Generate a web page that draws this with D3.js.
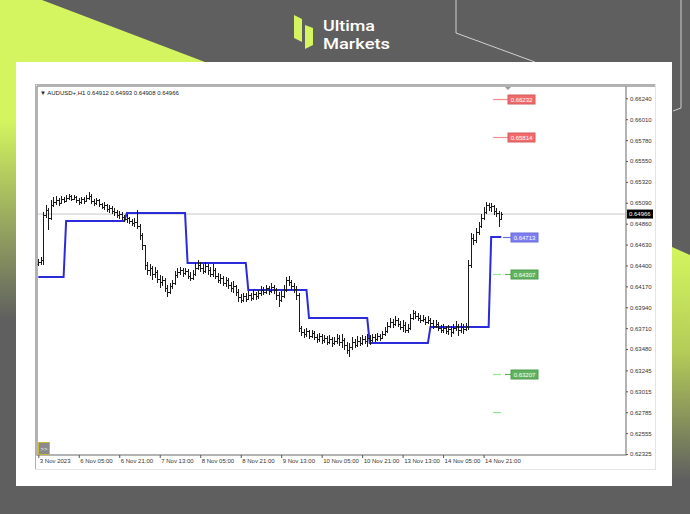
<!DOCTYPE html>
<html><head><meta charset="utf-8">
<script src="https://cdn.jsdelivr.net/npm/d3@7/dist/d3.min.js"></script>
<style>html,body{margin:0;padding:0;background:#5f5f5f;overflow:hidden}svg{display:block}</style>
</head><body>
<svg id="c" width="690" height="514"></svg>
<script>
// ---------- DATA ----------
const symbolTitle = "AUDUSD+,H1";
const lastBarOHLC = [0.64912, 0.64993, 0.64908, 0.64966];
const currentPrice = 0.64966;
const firstOpen = 0.64417;
const closes = [0.64439,0.64461,0.64956,0.65011,0.64923,0.65066,0.65099,0.65121,0.65088,0.65132,
0.65110,0.65143,0.65165,0.65132,0.65154,0.65121,0.65099,0.65132,0.65110,0.65143,
0.65165,0.65110,0.65088,0.65121,0.65077,0.65044,0.65066,0.65022,0.65033,0.65000,
0.64989,0.64956,0.64967,0.64934,0.64912,0.64923,0.64890,0.64868,0.64879,0.64835,
0.64736,0.64626,0.64406,0.64351,0.64373,0.64307,0.64329,0.64252,0.64219,0.64241,
0.64153,0.64109,0.64175,0.64208,0.64296,0.64329,0.64351,0.64318,0.64340,0.64285,
0.64263,0.64307,0.64373,0.64406,0.64373,0.64340,0.64395,0.64351,0.64307,0.64351,
0.64285,0.64241,0.64263,0.64208,0.64241,0.64186,0.64153,0.64175,0.64109,0.64054,
0.64021,0.64065,0.64032,0.64076,0.64043,0.64087,0.64065,0.64098,0.64131,0.64109,
0.64153,0.64120,0.64164,0.64131,0.64076,0.64021,0.64065,0.64131,0.64241,0.64219,
0.64175,0.64142,0.64076,0.63713,0.63669,0.63647,0.63680,0.63625,0.63658,0.63614,
0.63592,0.63625,0.63581,0.63603,0.63559,0.63592,0.63548,0.63570,0.63603,0.63559,
0.63581,0.63526,0.63471,0.63504,0.63559,0.63526,0.63570,0.63548,0.63592,0.63570,
0.63603,0.63581,0.63614,0.63592,0.63625,0.63603,0.63647,0.63680,0.63735,0.63779,
0.63757,0.63801,0.63757,0.63724,0.63746,0.63691,0.63713,0.63823,0.63878,0.63845,
0.63823,0.63801,0.63812,0.63779,0.63801,0.63768,0.63735,0.63757,0.63713,0.63691,
0.63713,0.63680,0.63702,0.63669,0.63713,0.63735,0.63691,0.63724,0.63702,0.63735,
0.64406,0.64703,0.64681,0.64769,0.64835,0.64923,0.64989,0.65066,0.65044,0.65055,
0.65000,0.64978,0.64912,0.64966];
const highs = [0.64472,0.64494,0.64989,0.65066,0.65033,0.65121,0.65154,0.65165,0.65143,0.65165,
0.65154,0.65176,0.65187,0.65176,0.65176,0.65165,0.65143,0.65154,0.65154,0.65176,
0.65209,0.65187,0.65132,0.65143,0.65132,0.65088,0.65099,0.65077,0.65066,0.65055,
0.65033,0.65011,0.65000,0.64989,0.64956,0.64967,0.64934,0.64912,0.64923,0.65011,
0.64857,0.64758,0.64626,0.64439,0.64417,0.64395,0.64384,0.64351,0.64296,0.64285,
0.64263,0.64186,0.64208,0.64241,0.64340,0.64373,0.64384,0.64373,0.64373,0.64362,
0.64329,0.64351,0.64428,0.64461,0.64439,0.64417,0.64439,0.64417,0.64384,0.64417,
0.64373,0.64318,0.64307,0.64285,0.64274,0.64263,0.64219,0.64230,0.64186,0.64142,
0.64087,0.64098,0.64098,0.64120,0.64098,0.64131,0.64109,0.64131,0.64175,0.64164,
0.64186,0.64175,0.64208,0.64186,0.64153,0.64109,0.64120,0.64186,0.64274,0.64285,
0.64241,0.64208,0.64175,0.64098,0.63735,0.63702,0.63713,0.63691,0.63691,0.63680,
0.63647,0.63658,0.63647,0.63636,0.63625,0.63636,0.63614,0.63614,0.63647,0.63636,
0.63647,0.63603,0.63559,0.63548,0.63614,0.63592,0.63625,0.63614,0.63636,0.63625,
0.63647,0.63636,0.63647,0.63647,0.63658,0.63647,0.63680,0.63724,0.63779,0.63823,
0.63812,0.63845,0.63823,0.63790,0.63801,0.63779,0.63757,0.63867,0.63911,0.63900,
0.63878,0.63856,0.63856,0.63834,0.63845,0.63823,0.63801,0.63801,0.63779,0.63746,
0.63757,0.63735,0.63746,0.63735,0.63757,0.63790,0.63757,0.63768,0.63757,0.63768,
0.64461,0.64758,0.64747,0.64813,0.64879,0.64967,0.65044,0.65099,0.65088,0.65088,
0.65066,0.65033,0.65000,0.64993];
const lows = [0.64395,0.64406,0.64406,0.64923,0.64791,0.64901,0.65044,0.65066,0.65055,0.65077,
0.65088,0.65099,0.65121,0.65110,0.65121,0.65088,0.65066,0.65077,0.65077,0.65099,
0.65121,0.65077,0.65055,0.65066,0.65044,0.65022,0.65011,0.64989,0.64978,0.64967,
0.64945,0.64923,0.64912,0.64901,0.64879,0.64868,0.64857,0.64835,0.64824,0.64802,
0.64681,0.64571,0.64351,0.64296,0.64285,0.64241,0.64263,0.64208,0.64153,0.64175,
0.64109,0.64054,0.64087,0.64142,0.64186,0.64263,0.64296,0.64274,0.64296,0.64252,
0.64230,0.64241,0.64285,0.64351,0.64329,0.64307,0.64318,0.64296,0.64274,0.64274,
0.64252,0.64208,0.64197,0.64175,0.64164,0.64142,0.64109,0.64098,0.64065,0.63999,
0.63988,0.63999,0.63999,0.64021,0.64010,0.64021,0.64021,0.64032,0.64065,0.64076,
0.64087,0.64076,0.64098,0.64087,0.64021,0.63944,0.63999,0.64043,0.64109,0.64175,
0.64131,0.64098,0.64021,0.63669,0.63625,0.63603,0.63614,0.63592,0.63603,0.63581,
0.63548,0.63559,0.63537,0.63548,0.63526,0.63537,0.63504,0.63526,0.63537,0.63515,
0.63493,0.63471,0.63427,0.63394,0.63471,0.63493,0.63504,0.63515,0.63526,0.63537,
0.63504,0.63526,0.63559,0.63559,0.63570,0.63570,0.63592,0.63625,0.63658,0.63713,
0.63713,0.63735,0.63724,0.63691,0.63669,0.63658,0.63658,0.63691,0.63801,0.63812,
0.63790,0.63768,0.63779,0.63746,0.63757,0.63724,0.63702,0.63713,0.63680,0.63658,
0.63658,0.63647,0.63636,0.63614,0.63647,0.63680,0.63625,0.63658,0.63647,0.63680,
0.63691,0.64373,0.64626,0.64648,0.64736,0.64813,0.64901,0.64967,0.65000,0.64989,
0.64956,0.64934,0.64824,0.64908];
const timeTickBars = [0,16,32,48,64,80,96,112,128,144,160,176];
const timeTickLabels = ["3 Nov 2023","6 Nov 05:00","6 Nov 21:00","7 Nov 13:00","8 Nov 05:00","8 Nov 21:00",
  "9 Nov 13:00","10 Nov 05:00","10 Nov 21:00","13 Nov 13:00","14 Nov 05:00","14 Nov 21:00"];
const priceTicks = [0.66240,0.66010,0.65780,0.65550,0.65320,0.65090,0.64860,0.64630,0.64400,
  0.64170,0.63940,0.63710,0.63480,0.63245,0.63015,0.62785,0.62555,0.62325];
const dayStartBars = [0,11,35,59,83,107,131,155,179];
const dayLevels = [0.64274,0.64890,0.64978,0.64428,0.64131,0.63823,0.63548,0.63724,0.64713];
const levelPrices = [0.66232,0.65814,0.64713,0.64307,0.63207,0.62789];
const levelKinds = ["red","red","blue","green","green","plain"];
const brandLines = ["Ultima","Markets"];

// ---------- DRAW ----------
(function(){
const svg = d3.select("#c");
const defs = svg.append("defs");
const gR = defs.append("linearGradient").attr("id","gr").attr("x1",0).attr("y1",0).attr("x2",0).attr("y2",1);
gR.append("stop").attr("offset","0%").attr("stop-color","#d4f55f");
gR.append("stop").attr("offset","45%").attr("stop-color","#b4cc58");
gR.append("stop").attr("offset","100%").attr("stop-color","#5f5f5f");
const gL = defs.append("linearGradient").attr("id","gl").attr("x1",0).attr("y1",0).attr("x2",0).attr("y2",1);
gL.append("stop").attr("offset","0%").attr("stop-color","#d4f55f");
gL.append("stop").attr("offset","100%").attr("stop-color","#5f5f5f");

svg.append("rect").attr("width",690).attr("height",514).attr("fill","#5f5f5f");
svg.append("polygon").attr("points","0,0 42,0 205,62 16,62 16,120 0,120").attr("fill","#d4f55f");
svg.append("rect").attr("x",0).attr("y",120).attr("width",16).attr("height",200).attr("fill","url(#gl)");
svg.append("polygon").attr("points","672,247 690,255 690,480 672,480").attr("fill","url(#gr)");
svg.append("polyline").attr("points","456,0 456,33 535,62").attr("fill","none").attr("stroke","#d0d0d0").attr("stroke-width",1);
svg.append("polyline").attr("points","681,0 681,108 673,111").attr("fill","none").attr("stroke","#d0d0d0").attr("stroke-width",1);

// logo
svg.append("polygon").attr("points","294,15 302,19 302,42 294,38").attr("fill","#d4f55f");
svg.append("polygon").attr("points","305,25 313,28 313,45 305,49").attr("fill","#d4f55f");
const brandW = [52, 67];
brandLines.forEach((t,i)=>{
  svg.append("text").attr("x",323).attr("y",30.5+i*18.2).text(t).attr("fill","#fff")
    .attr("font-family","Roboto, Inter, sans-serif").attr("font-weight",500).attr("font-size",15.5)
    .attr("textLength",brandW[i]).attr("lengthAdjust","spacingAndGlyphs");
});

// white panel
svg.append("rect").attr("x",16).attr("y",62).attr("width",656).attr("height",424).attr("fill","#fff");
// MT4 window
svg.append("rect").attr("x",35.5).attr("y",84.5).attr("width",620).attr("height",385).attr("fill","#fff").attr("stroke","#e4e4e4");

const pL = 37, pR = 626, pT = 86, pB = 455;
const x = d3.scaleLinear().domain([0,183]).range([38.3,501.3]);
const y = d3.scaleLinear().domain([0.62325,0.66240]).range([454,98.3]);
const font = "Liberation Sans, Arial, sans-serif";

// current price line
svg.append("line").attr("x1",pL).attr("x2",pR).attr("y1",y(currentPrice)).attr("y2",y(currentPrice))
  .attr("stroke","#c8c8c8").attr("stroke-width",1);

// blue daily step line
const blueVals = closes.map((c,i)=>{ let k=0; for(let d=0; d<dayStartBars.length; d++) if(i>=dayStartBars[d]) k=d; return dayLevels[k]; });
svg.append("path").datum(blueVals).attr("fill","none").attr("stroke","#2b2bdc").attr("stroke-width",2)
  .attr("d", d3.line().x((d,i)=>x(i)).y(d=>y(d)));

// OHLC bars
const opens = closes.map((c,i)=> i===0 ? firstOpen : closes[i-1]);
opens[183] = lastBarOHLC[0];
const bars = svg.append("g").attr("stroke","#1a1a1a").attr("stroke-width",1).attr("shape-rendering","crispEdges");
closes.forEach((c,i)=>{
  const xi = Math.round(x(i))+0.5;
  bars.append("line").attr("x1",xi).attr("x2",xi).attr("y1",y(highs[i])).attr("y2",y(lows[i]));
  bars.append("line").attr("x1",xi-1.5).attr("x2",xi).attr("y1",Math.round(y(opens[i]))+0.5).attr("y2",Math.round(y(opens[i]))+0.5);
  bars.append("line").attr("x1",xi).attr("x2",xi+1.5).attr("y1",Math.round(y(c))+0.5).attr("y2",Math.round(y(c))+0.5);
});

// levels
const kindStyle = {
  red:{dash:"#ff8c8c", box:"#f26b6b", x1:493, x2:508},
  blue:{dash:"#6b6bf0", box:"#7d7df5", x1:503, x2:511},
  green:{dash:"#5ab55a", box:"#5fb35f", x1:505, x2:511},
  plain:{dash:"#8de88d"}
};
levelPrices.forEach((p,i)=>{
  const k = levelKinds[i], st = kindStyle[k], yy = Math.round(y(p))+0.5;
  if(k==="green"||k==="plain"){
    svg.append("line").attr("x1",493).attr("x2",501).attr("y1",yy).attr("y2",yy).attr("stroke","#8de88d").attr("stroke-width",1.2);
  }
  if(k!=="plain"){
    svg.append("line").attr("x1",st.x1).attr("x2",st.x2).attr("y1",yy).attr("y2",yy).attr("stroke",st.dash).attr("stroke-width",1.2);
    const bx = k==="red"?508:511;
    svg.append("rect").attr("x",bx).attr("y",yy-4.5).attr("width",27).attr("height",9).attr("fill",st.box).attr("stroke",d3.color(st.box).darker(0.4));
    svg.append("text").attr("x",bx+13.5).attr("y",yy+2.2).attr("text-anchor","middle").text(p.toFixed(5))
      .attr("fill","#fff").attr("font-family",font).attr("font-size",6);
  }
});

// plot frame
svg.append("path").attr("d",`M${pL},${pT} H${655} M${pL},${pT} V${pB} H${pR} V${pT}`)
  .attr("fill","none").attr("stroke","#9a9a9a").attr("stroke-width",1.5);
svg.append("line").attr("x1",35.5).attr("x2",35.5).attr("y1",84).attr("y2",469).attr("stroke","#b0b0b0");
svg.append("line").attr("x1",35.5).attr("x2",655).attr("y1",84.5).attr("y2",84.5).attr("stroke","#b0b0b0");

// shift marker
svg.append("path").attr("d","M505,87 L511,87 L508,90 Z").attr("fill","#9a9a9a");

// price axis
const yAxis = d3.axisRight(y).tickValues(priceTicks).tickSize(2).tickPadding(2).tickFormat(d=>d.toFixed(5));
const ya = svg.append("g").attr("transform",`translate(${pR},0)`).call(yAxis);
ya.select(".domain").remove();
ya.selectAll("line").attr("stroke","#555");
ya.selectAll("text").attr("font-family",font).attr("font-size",6).attr("fill","#333");

// current price tag
const cy = y(currentPrice);
svg.append("rect").attr("x",627).attr("y",cy-4.5).attr("width",26).attr("height",9).attr("fill","#000");
svg.append("text").attr("x",629).attr("y",cy+2.2).text(currentPrice.toFixed(5)).attr("fill","#fff")
  .attr("font-family",font).attr("font-size",6);

// time axis
const xa = svg.append("g").attr("transform",`translate(0,${pB})`)
  .call(d3.axisBottom(x).tickValues(timeTickBars).tickSize(3).tickFormat((d,i)=>timeTickLabels[i]));
xa.select(".domain").remove();
xa.selectAll("line").attr("stroke","#555");
xa.selectAll("text").attr("text-anchor","start").attr("dx",1).attr("dy","0.4em")
  .attr("font-family",font).attr("font-size",6).attr("fill","#333");

// header
svg.append("text").attr("x",40).attr("y",95).text("\u25BC " + symbolTitle + "  " + lastBarOHLC.map(v=>v.toFixed(5)).join(" "))
  .attr("font-family",font).attr("font-size",6).attr("fill","#222");

// >> button
svg.append("rect").attr("x",38.5).attr("y",442.5).attr("width",11).attr("height",12).attr("fill","#8a8a8a").attr("stroke","#c9b43c");
svg.append("text").attr("x",44).attr("y",451).attr("text-anchor","middle").text(">>")
  .attr("font-family",font).attr("font-size",6).attr("fill","#eee");
})();
</script>
</body></html>
